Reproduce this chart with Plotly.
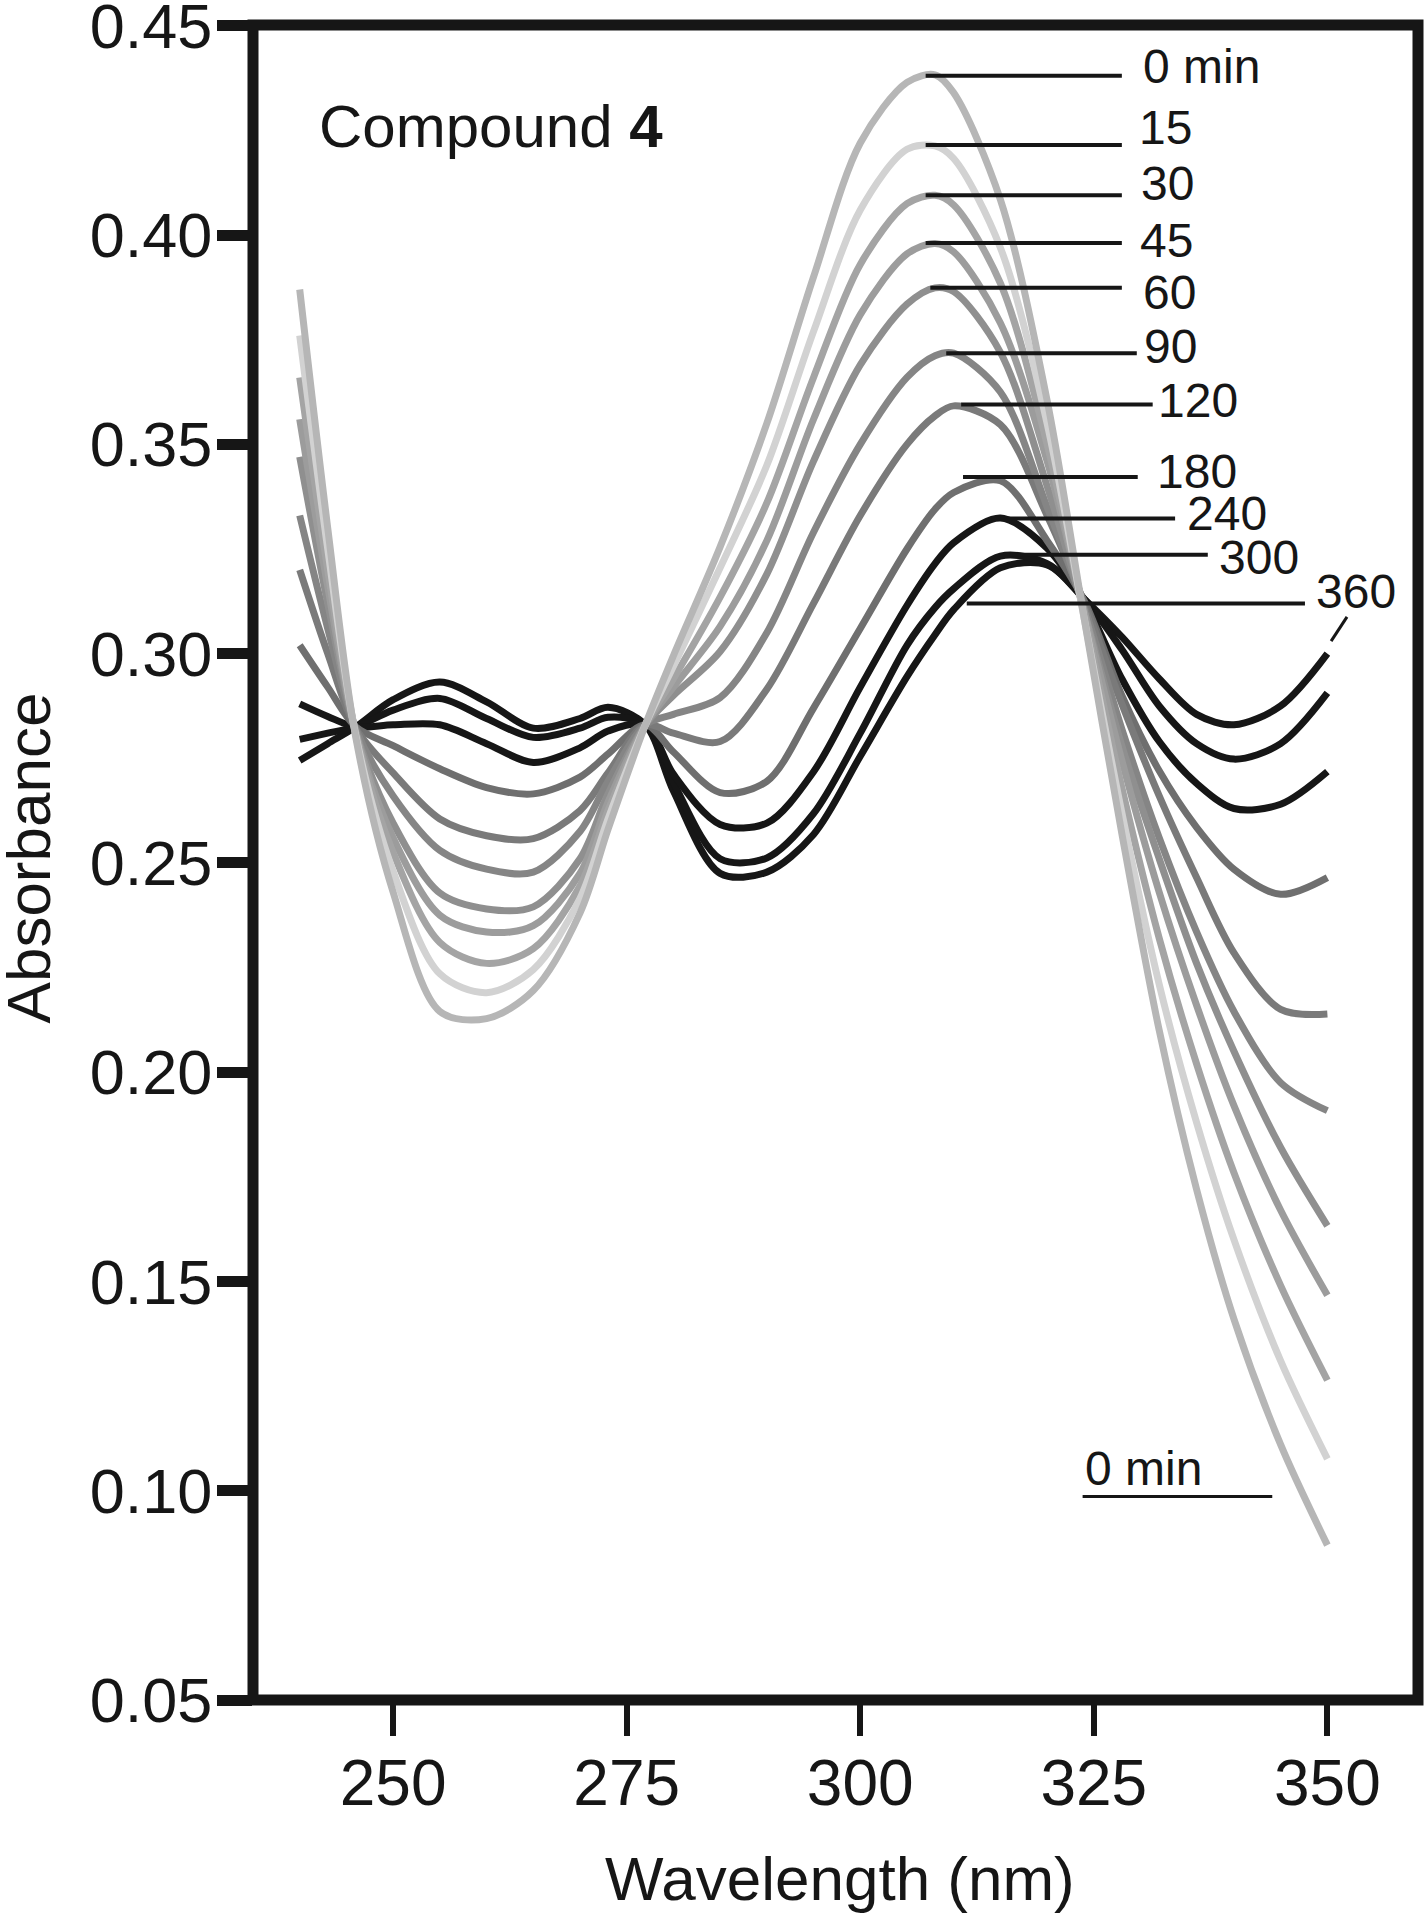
import plotly.graph_objects as go

# wavelengths (nm) at which the spectra were read
wavelength_nm = [240, 243, 246, 250, 255, 260, 265, 270, 273, 277, 280, 285, 290,
                 295, 300, 305, 308, 310, 315, 320, 324, 328, 332, 336, 340, 345, 350]

abs_0min = [0.387, 0.330, 0.280, 0.243, 0.2145, 0.2128, 0.2195, 0.238, 0.258, 0.283,
            0.2995, 0.3255, 0.355, 0.390, 0.422, 0.4365, 0.4383, 0.434, 0.4085, 0.3605,
            0.308, 0.257, 0.210, 0.172, 0.141, 0.111, 0.087]
abs_15min = [0.376, 0.325, 0.2805, 0.248, 0.2235, 0.219, 0.2245, 0.2415, 0.2605, 0.283,
             0.297, 0.3205, 0.345, 0.377, 0.406, 0.4205, 0.4213, 0.4183, 0.397, 0.355,
             0.308, 0.262, 0.221, 0.188, 0.160, 0.131, 0.1076]
abs_30min = [0.366, 0.320, 0.281, 0.2525, 0.231, 0.226, 0.2295, 0.2445, 0.2625, 0.283,
             0.294, 0.3135, 0.336, 0.366, 0.393, 0.4075, 0.4095, 0.4072, 0.3885, 0.350,
             0.309, 0.268, 0.232, 0.202, 0.176, 0.149, 0.1264]
abs_45min = [0.356, 0.316, 0.2812, 0.256, 0.2375, 0.2335, 0.235, 0.2475, 0.2645, 0.283,
             0.292, 0.3065, 0.327, 0.356, 0.381, 0.3955, 0.398, 0.396, 0.379, 0.346,
             0.310, 0.2745, 0.243, 0.216, 0.192, 0.167, 0.1467]
abs_60min = [0.347, 0.312, 0.2815, 0.2595, 0.2428, 0.239, 0.2395, 0.251, 0.2665, 0.283,
             0.290, 0.3005, 0.319, 0.346, 0.369, 0.3835, 0.3874, 0.3865, 0.372, 0.340,
             0.310, 0.278, 0.251, 0.226, 0.205, 0.182, 0.1633]
abs_90min = [0.333, 0.306, 0.282, 0.266, 0.253, 0.2485, 0.2478, 0.2575, 0.2695, 0.283,
             0.2855, 0.2895, 0.305, 0.329, 0.350, 0.366, 0.3712, 0.3718, 0.3625, 0.335,
             0.311, 0.282, 0.256, 0.2335, 0.2145, 0.1975, 0.1908]
abs_120min = [0.320, 0.300, 0.2822, 0.2715, 0.2605, 0.2565, 0.2558, 0.2625, 0.2715, 0.283,
              0.281, 0.279, 0.2915, 0.312, 0.333, 0.350, 0.3568, 0.3592, 0.3547, 0.333,
              0.312, 0.288, 0.266, 0.2465, 0.2285, 0.2150, 0.2139]
abs_180min = [0.302, 0.292, 0.2825, 0.278, 0.2725, 0.268, 0.2665, 0.2705, 0.276, 0.283,
              0.2765, 0.2668, 0.2695, 0.287, 0.306, 0.325, 0.3345, 0.3385, 0.3413, 0.327,
              0.3125, 0.290, 0.272, 0.2585, 0.2485, 0.2425, 0.2465]
abs_240min = [0.288, 0.285, 0.2825, 0.283, 0.283, 0.2785, 0.274, 0.2775, 0.2815, 0.283,
              0.2712, 0.2592, 0.2595, 0.2718, 0.292, 0.3115, 0.3215, 0.3265, 0.3324, 0.3252,
              0.3125, 0.294, 0.279, 0.269, 0.263, 0.264, 0.2718]
abs_300min = [0.2795, 0.281, 0.2825, 0.2865, 0.2893, 0.2845, 0.280, 0.2822, 0.2848, 0.283,
              0.2692, 0.2510, 0.2512, 0.2618, 0.281, 0.302, 0.311, 0.3155, 0.3233, 0.3215,
              0.313, 0.301, 0.2875, 0.2785, 0.2748, 0.2785, 0.2906]
abs_360min = [0.2745, 0.2785, 0.2825, 0.289, 0.2932, 0.2885, 0.2822, 0.2845, 0.2872, 0.283,
              0.2672, 0.2475, 0.2478, 0.2568, 0.2755, 0.2945, 0.3045, 0.3105, 0.3205, 0.3212,
              0.313, 0.304, 0.294, 0.2855, 0.283, 0.2875, 0.300]

time_labels = ["0 min", "15", "30", "45", "60", "90", "120", "180", "240", "300", "360"]
x_ticks = [250, 275, 300, 325, 350]
y_ticks = [0.05, 0.10, 0.15, 0.20, 0.25, 0.30, 0.35, 0.40, 0.45]

spectra = [abs_0min, abs_15min, abs_30min, abs_45min, abs_60min, abs_90min,
           abs_120min, abs_180min, abs_240min, abs_300min, abs_360min]
grays = ["#b6b6b6", "#d2d2d2", "#a4a4a4", "#9c9c9c", "#8f8f8f", "#858585",
         "#7a7a7a", "#6f6f6f", "#161616", "#161616", "#161616"]

INK = "#161616"
FONT = "Liberation Sans, Arial, Helvetica, sans-serif"

fig = go.Figure()

# later spectra underneath, earliest on top
for label, values, color in reversed(list(zip(time_labels, spectra, grays))):
    fig.add_trace(
        go.Scatter(
            x=wavelength_nm,
            y=values,
            mode="lines",
            name=label,
            line=dict(color=color, width=7, shape="spline", smoothing=0.9),
            showlegend=False,
        )
    )

# leader lines and time labels: (text, line start, line end, line level, text x, text y)
leaders = [
    ("0 min", 307.0, 328.0, 0.4381, 330.1, 0.4404),
    ("15", 307.0, 328.0, 0.4215, 329.6, 0.4258),
    ("30", 307.0, 328.0, 0.4095, 329.8, 0.4124),
    ("45", 307.0, 328.0, 0.3981, 329.7, 0.3988),
    ("60", 307.5, 328.0, 0.3874, 330.1, 0.3864),
    ("90", 309.2, 329.6, 0.3718, 330.2, 0.3733),
    ("120", 310.8, 331.3, 0.3595, 331.7, 0.3605),
    ("180", 311.0, 329.7, 0.3422, 331.5, 0.3436),
    ("240", 314.0, 333.7, 0.3323, 334.8, 0.3334),
    ("300", 316.0, 337.2, 0.3236, 338.2, 0.3229),
    ("360", 311.4, 347.6, 0.3120, 348.6, 0.3148),
]
for text, x0, x1, y, tx, ty in leaders:
    fig.add_shape(type="line", x0=x0, x1=x1, y0=y, y1=y, xref="x", yref="y",
                  line=dict(color=INK, width=4), layer="above")
    fig.add_annotation(x=tx, y=ty, xref="x", yref="y", text=text, showarrow=False,
                       xanchor="left", yanchor="middle",
                       font=dict(family=FONT, size=48, color=INK))

# short tick joining "360" to its curve end
fig.add_shape(type="line", x0=350.4, x1=352.1, y0=0.3030, y1=0.3088,
              xref="x", yref="y", line=dict(color=INK, width=3))

# underlined "0 min" key at lower right
fig.add_annotation(x=323.8, y=0.1053, xref="x", yref="y", text="0 min", showarrow=False,
                   xanchor="left", yanchor="middle", font=dict(family=FONT, size=48, color=INK))
fig.add_shape(type="line", x0=323.8, x1=344.1, y0=0.0986, y1=0.0986, xref="x", yref="y",
              line=dict(color=INK, width=3))

fig.add_annotation(x=241.9, y=0.426, xref="x", yref="y", text="Compound <b>4</b>",
                   showarrow=False, xanchor="left", yanchor="middle",
                   font=dict(family=FONT, size=60, color=INK))

# axis titles
fig.add_annotation(x=-0.1923, y=0.503, xref="paper", yref="paper", text="Absorbance",
                   textangle=-90, showarrow=False, xanchor="center", yanchor="middle",
                   font=dict(family=FONT, size=62, color=INK))
fig.add_annotation(x=0.504, y=-0.1068, xref="paper", yref="paper", text="Wavelength (nm)",
                   showarrow=False, xanchor="center", yanchor="middle",
                   font=dict(family=FONT, size=62, color=INK))

# heavy frame round the plot area
fig.add_shape(type="rect", xref="paper", yref="paper", x0=0, x1=1, y0=0, y1=1,
              line=dict(color=INK, width=11), layer="above")

fig.update_layout(
    width=1428,
    height=1920,
    margin=dict(l=253, r=10, t=25, b=220, autoexpand=False),
    paper_bgcolor="white",
    plot_bgcolor="white",
    font=dict(family=FONT, color=INK),
)
fig.update_xaxes(
    range=[235, 359.7],
    tickvals=x_ticks,
    ticks="outside",
    ticklen=35,
    tickwidth=6,
    tickcolor=INK,
    ticklabelstandoff=-8,
    ticklabeloverflow="allow",
    automargin=False,
    tickfont=dict(family=FONT, size=64, color=INK),
    showgrid=False,
    zeroline=False,
    showline=False,
)
fig.update_yaxes(
    range=[0.05, 0.4502],
    tickvals=y_ticks,
    tickformat=".2f",
    ticks="outside",
    ticklen=35,
    tickwidth=11,
    tickcolor=INK,
    ticklabelstandoff=-8,
    ticklabeloverflow="allow",
    automargin=False,
    tickfont=dict(family=FONT, size=63, color=INK),
    showgrid=False,
    zeroline=False,
    showline=False,
)

# drop the browser's default 8 px body margin so the figure sits at the page corner
fig.write_html(
    "out.html",
    config={"displayModeBar": False},
    post_script="document.body.style.margin = '0px';",
)
